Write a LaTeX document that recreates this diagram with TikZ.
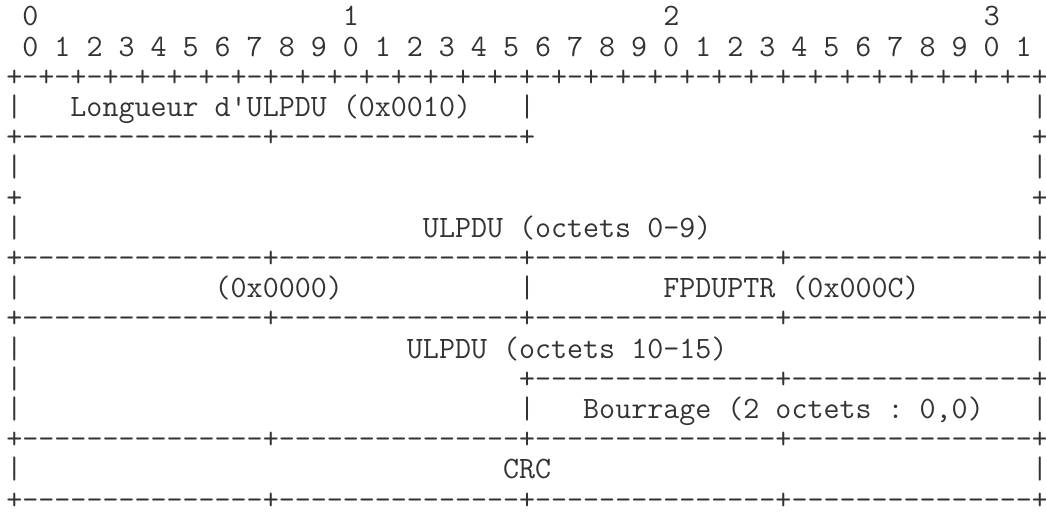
\documentclass[tikz,border=0pt]{standalone}
\usepackage{fontspec}
\usetikzlibrary{positioning}

% typewriter cells: 8pt wide, 15.1pt per line
\newcommand\asciifont{\ttfamily\fontsize{15.556}{15.1}\selectfont\frenchspacing}
\newcommand\gap[1]{\hspace*{#1\fontcharwd\font`x}}
\newcommand\dashes[1]{\foreach\k in {1,...,#1}{-}}
\newcommand\bitrule{+\foreach\k in {1,...,32}{-+}}
\newcommand\fieldrule{+\dashes{15}+\dashes{15}+\dashes{15}+\dashes{15}+}

\begin{document}
\begin{tikzpicture}[
  x=8pt, y=-15.1pt,
  ascii/.style={anchor=base west, inner sep=0pt, font=\asciifont, text=black!80}
]
  \useasboundingbox (0,0) rectangle (65.375,17.15);

  % bit numbering
  \node[ascii] (tens) at (0.375,0.86) {\gap{1}0\gap{19}1\gap{19}2\gap{19}3};
  \node[ascii] (units) at (0.375,1.86)
    {\gap{1}0 1 2 3 4 5 6 7 8 9 0 1 2 3 4 5 6 7 8 9 0 1 2 3 4 5 6 7 8 9 0 1};
  \node[ascii] (top) at (0.375,2.86) {\bitrule};

  % length field and first ULPDU bytes
  \node[ascii] (len) at (0.375,3.86)
    {|\gap{3}Longueur d'ULPDU (0x0010)\gap{3}|\gap{31}|};
  \node[ascii] (lenrule) at (0.375,4.86) {+\dashes{15}+\dashes{15}+\gap{31}+};
  \node[ascii] (pdu1a) at (0.375,5.86) {|\gap{63}|};
  \node[ascii] (pdu1b) at (0.375,6.86) {+\gap{63}+};
  \node[ascii] (pdu1) at (0.375,7.86) {|\gap{25}ULPDU (octets 0-9)\gap{20}|};
  \node[ascii] (rule1) at (0.375,8.86) {\fieldrule};

  % marker word
  \node[ascii] (marker) at (0.375,9.86)
    {|\gap{12}(0x0000)\gap{11}|\gap{8}FPDUPTR (0x000C)\gap{7}|};
  \node[ascii] (rule2) at (0.375,10.86) {\fieldrule};

  % remaining ULPDU bytes and padding
  \node[ascii] (pdu2) at (0.375,11.86) {|\gap{24}ULPDU (octets 10-15)\gap{19}|};
  \node[ascii] (padrule) at (0.375,12.86) {|\gap{31}+\dashes{15}+\dashes{15}+};
  \node[ascii] (pad) at (0.375,13.86)
    {|\gap{31}|\gap{3}Bourrage (2 octets : 0,0)\gap{3}|};
  \node[ascii] (rule3) at (0.375,14.86) {\fieldrule};

  % checksum
  \node[ascii] (crc) at (0.375,15.86) {|\gap{30}CRC\gap{30}|};
  \node[ascii] (bottom) at (0.375,16.86) {\fieldrule};
\end{tikzpicture}
\end{document}
